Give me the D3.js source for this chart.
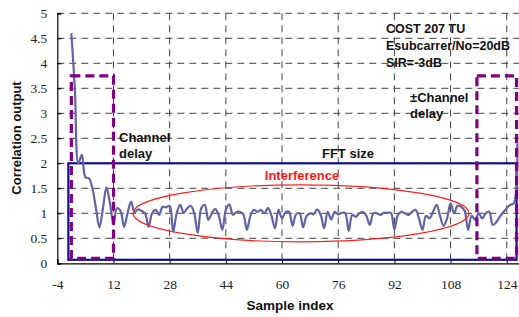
<!DOCTYPE html>
<html><head><meta charset="utf-8">
<script src="https://cdn.jsdelivr.net/npm/d3@7"></script>
<style>body{margin:0;background:#fff}svg{display:block}</style>
</head><body><svg id="c" width="519" height="317"></svg>
<script>
const sampleIndex = d3.range(0, 128);
const correlation = [
 4.6,3.5,2.0,2.17,1.72,1.7,1.5,1.1,0.72,1.1,1.52,1.2,0.78,1.1,1.05,0.73,
 1.0,1.23,1.03,1.08,1.05,1.0,0.73,1.0,1.07,0.97,1.13,1.12,1.15,0.63,1.0,1.17,
 1.01,1.1,1.15,1.0,0.61,1.1,1.17,0.87,1.0,1.09,0.95,0.67,1.07,1.18,0.97,1.02,
 1.03,0.97,0.67,0.95,1.07,1.03,1.07,1.0,1.11,0.95,0.7,1.07,0.9,1.02,1.03,0.75,
 0.98,1.0,0.72,0.95,1.0,0.98,1.08,0.97,0.7,1.03,0.88,1.03,0.98,1.01,1.0,0.65,
 0.97,0.93,1.0,1.03,0.95,0.77,1.0,1.0,0.97,1.01,1.01,1.01,0.68,0.97,1.03,1.0,
 0.97,1.03,1.07,0.9,0.67,0.95,0.9,1.03,1.17,0.95,0.75,0.9,1.2,1.0,1.15,1.13,
 1.05,0.67,0.95,0.87,1.0,0.9,1.0,1.03,0.77,0.82,0.93,1.02,1.1,1.17,1.2,2.4];
const xTicks = [-4,12,28,44,60,76,92,108,124];
const yTicks = [0,0.5,1,1.5,2,2.5,3,3.5,4,4.5,5];
const fftBox = [-0.85, 126.8, 0.07, 2.0];
const delayBoxes = [[0, 12, 0.1, 3.75],[115.5, 126.8, 0.1, 3.75]];
const ellipse = [65.4, 1.0, 47.85, 0.57];
const infoLines = ["COST 207 TU","Esubcarrer/No=20dB","SIR=-3dB"];

const svg = d3.select("#c");
const x = d3.scaleLinear().domain([-4,128]).range([57.3,520.8]);
const y = d3.scaleLinear().domain([0,5]).range([263.3,13.3]);

// grid
const g = svg.append("g");
g.selectAll(".hg").data(yTicks.filter(d=>d>0)).enter().append("line")
 .attr("x1",x(-4)).attr("x2",519).attr("y1",d=>y(d)).attr("y2",d=>y(d))
 .attr("stroke","#444").attr("stroke-width",1).attr("stroke-dasharray","7,5");
g.selectAll(".vg").data(xTicks.filter(d=>d>-4)).enter().append("line")
 .attr("x1",d=>x(d)).attr("x2",d=>x(d)).attr("y1",y(5)).attr("y2",y(0))
 .attr("stroke","#444").attr("stroke-width",1).attr("stroke-dasharray","7,5");

// axes
const xa = svg.append("g").attr("transform",`translate(0,${y(0)})`)
 .call(d3.axisBottom(x).tickValues(xTicks).tickSize(-4).tickPadding(16).tickFormat(d=>String(d)));
const ya = svg.append("g").attr("transform",`translate(${x(-4)},0)`)
 .call(d3.axisLeft(y).tickValues(yTicks).tickSize(-4).tickPadding(10).tickFormat(d=>String(d)));
[xa,ya].forEach(a=>{
 a.select(".domain").attr("stroke","#000").attr("stroke-width",1.2);
 a.selectAll(".tick line").attr("stroke","#000");
 a.selectAll("text").attr("font-family","'Liberation Serif', serif").attr("font-size","13.5px").attr("fill","#222");
});

// FFT box
svg.append("rect").attr("x",x(fftBox[0])).attr("y",y(fftBox[3]))
 .attr("width",x(fftBox[1])-x(fftBox[0])).attr("height",y(fftBox[2])-y(fftBox[3]))
 .attr("fill","none").attr("stroke","#10108a").attr("stroke-width",2.2);

// line
svg.append("path").datum(sampleIndex.map((d,i)=>[d,correlation[i]]))
 .attr("d",d3.line().curve(d3.curveCatmullRom.alpha(0.5)).x(d=>x(d[0])).y(d=>y(d[1])))
 .attr("fill","none").attr("stroke","#6262a4").attr("stroke-width",2.2)
 .attr("stroke-linejoin","round");

// delay boxes
svg.selectAll(".db").data(delayBoxes).enter().append("rect")
 .attr("x",d=>x(d[0])).attr("y",d=>y(d[3]))
 .attr("width",d=>x(d[1])-x(d[0])).attr("height",d=>y(d[2])-y(d[3]))
 .attr("fill","none").attr("stroke","#800080").attr("stroke-width",3.2).attr("stroke-dasharray","9,5");

// ellipse
svg.append("ellipse").attr("cx",x(ellipse[0])).attr("cy",y(ellipse[1]))
 .attr("rx",x(ellipse[0]+ellipse[2])-x(ellipse[0])).attr("ry",y(0)-y(ellipse[3]))
 .attr("fill","none").attr("stroke","#ff2020").attr("stroke-width",1.2);

const txt=(t,xx,yy,opt={})=>svg.append("text").text(t).attr("x",xx).attr("y",yy)
 .attr("font-family","'Liberation Sans', Arial, sans-serif").attr("font-weight","bold")
 .attr("font-size",opt.size||"12.5px").attr("fill",opt.fill||"#111")
 .attr("text-anchor",opt.anchor||"start");

infoLines.forEach((t,i)=>txt(t,386,33+i*17));
txt("Channel",119,142,{size:"13px"});
txt("delay",119,158,{size:"13px"});
txt("\u00b1Channel",410,102,{size:"13px"});
txt("delay",410,118,{size:"13px"});
txt("FFT size",348,158,{size:"13px",anchor:"middle"});
txt("Interference",302,180,{size:"13px",anchor:"middle",fill:"#ff1a1a"});
txt("Sample index",290,310,{size:"13.5px",anchor:"middle"});
txt("Correlation output",0,0,{size:"13px",anchor:"middle"})
 .attr("transform","translate(20.5,138) rotate(-90)");
</script></body></html>
